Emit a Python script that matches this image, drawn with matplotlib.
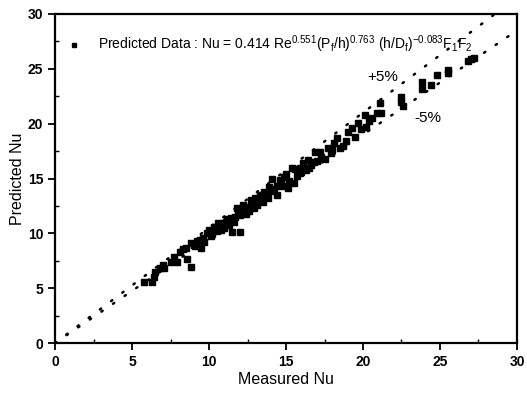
import matplotlib
matplotlib.use("Agg")
import matplotlib.pyplot as plt
from matplotlib.ticker import MultipleLocator

plt.rcParams['font.family'] = ['Liberation Sans', 'DejaVu Sans']
plt.rcParams['mathtext.fontset'] = 'custom'
plt.rcParams['mathtext.rm'] = 'Liberation Sans'
plt.rcParams['mathtext.it'] = 'Liberation Sans'
plt.rcParams['mathtext.bf'] = 'Liberation Sans:bold'

# measured vs predicted Nu
measured = [5.8, 6.3, 6.4, 6.5, 6.8, 7.0, 7.1, 7.5, 7.7, 7.9, 8.1, 8.3, 8.5, 8.6, 8.8, 8.8,
            9.0, 9.1, 9.2, 9.4, 9.5, 9.6, 9.7, 9.9, 10.0, 10.1, 10.2, 10.3, 10.5, 10.6,
            10.7, 10.8, 10.9, 11.0, 11.1, 11.2, 11.3, 11.4, 11.5, 11.6, 11.7, 11.8, 11.9,
            12.0, 12.0, 12.2, 12.2, 12.4, 12.5, 12.6, 12.7, 12.8, 12.9, 13.0, 13.1, 13.2,
            13.3, 13.4, 13.5, 13.6, 13.7, 13.8, 13.9, 14.0, 14.1, 14.2, 14.4, 14.4, 14.6,
            14.7, 14.8, 14.9, 15.0, 15.1, 15.2, 15.4, 15.5, 15.6, 15.7, 15.9, 15.9, 16.0,
            16.1, 16.3, 16.4, 16.5, 16.6, 16.8, 16.9, 17.0, 17.2, 17.3, 17.5, 17.7, 17.9,
            18.0, 18.1, 18.3, 18.5, 18.7, 18.9, 19.0, 19.3, 19.5, 19.7, 19.9, 20.1, 20.2,
            20.4, 20.6, 20.9, 21.1, 21.2, 22.5, 22.5, 22.6, 23.8, 23.8, 24.4, 24.8, 25.5,
            25.5, 26.8, 27.0, 27.2]
predicted = [5.6, 5.6, 6.0, 6.5, 6.8, 7.1, 6.8, 7.4, 7.8, 7.4, 8.3, 8.6, 8.7, 7.7, 6.9, 9.1,
             8.9, 8.8, 9.3, 9.4, 8.7, 9.6, 9.2, 10.0, 10.3, 9.8, 9.9, 10.6, 10.2, 10.9,
             10.6, 10.3, 10.9, 10.5, 11.0, 11.3, 10.8, 11.4, 10.1, 11.0, 11.5, 12.3, 12.0,
             10.1, 11.7, 12.6, 11.9, 11.8, 12.4, 12.0, 13.0, 12.8, 12.3, 13.2, 12.6, 12.9,
             13.5, 13.2, 12.9, 13.8, 13.5, 13.2, 14.2, 13.9, 15.0, 14.0, 13.5, 14.3, 14.9,
             14.6, 14.3, 15.1, 15.4, 14.1, 14.8, 16.0, 14.6, 15.9, 15.2, 15.5, 16.0, 15.6,
             16.4, 15.8, 16.7, 16.0, 16.2, 16.5, 17.4, 16.6, 17.4, 17.0, 16.8, 17.8, 17.3,
             17.6, 18.2, 18.7, 17.8, 18.0, 18.4, 19.2, 19.6, 18.8, 20.1, 19.5, 20.8, 19.7,
             20.2, 20.5, 21.0, 21.9, 21.0, 22.4, 22.0, 21.6, 23.8, 23.2, 23.5, 24.4, 24.9,
             24.6, 25.7, 25.9, 26.0]

band_x = [0, 30]
upper = [v * 1.05 for v in band_x]
lower = [v * 0.95 for v in band_x]

fig = plt.figure(figsize=(5.27, 3.93), dpi=100)
ax = fig.add_axes([0.1044, 0.1272, 0.8766, 0.8372])

ax.plot(band_x, upper, color='black', lw=1.8, linestyle=(0, (0.6, 5.0)), dash_capstyle='round')
ax.plot(band_x, lower, color='black', lw=1.8, linestyle=(0, (0.6, 5.0)), dash_capstyle='round')
ax.plot(measured, predicted, 's', color='black', markersize=3.9, linestyle='none',
        label=r'Predicted Data : Nu = 0.414 Re$^{0.551}$(P$_f$/h)$^{0.763}$ (h/D$_f$)$^{-0.083}$F$_1$F$_2$')

ax.text(21.3, 24.3, '+5%', fontsize=11, ha='center', va='center')
ax.text(24.2, 20.5, '-5%', fontsize=11, ha='center', va='center')

ax.set_xlim(0, 30)
ax.set_ylim(0, 30)
ax.xaxis.set_major_locator(MultipleLocator(5))
ax.yaxis.set_major_locator(MultipleLocator(5))
ax.xaxis.set_minor_locator(MultipleLocator(2.5))
ax.yaxis.set_minor_locator(MultipleLocator(2.5))
ax.tick_params(which='major', direction='out', length=5, width=1.3, labelsize=10)
ax.tick_params(which='minor', direction='in', length=3, width=1.0)
for lab in ax.get_xticklabels() + ax.get_yticklabels():
    lab.set_fontweight('bold')
for sp in ax.spines.values():
    sp.set_linewidth(1.6)

ax.set_xlabel('Measured Nu', fontsize=11.5, labelpad=2)
ax.set_ylabel('Predicted Nu', fontsize=11.5, labelpad=2)

ax.legend(loc='upper left', bbox_to_anchor=(0, 0.982), frameon=False, fontsize=10,
          handlelength=0.8, handletextpad=1.3, borderaxespad=0.6, markerscale=0.9)

fig.savefig('out.png', dpi=100)
